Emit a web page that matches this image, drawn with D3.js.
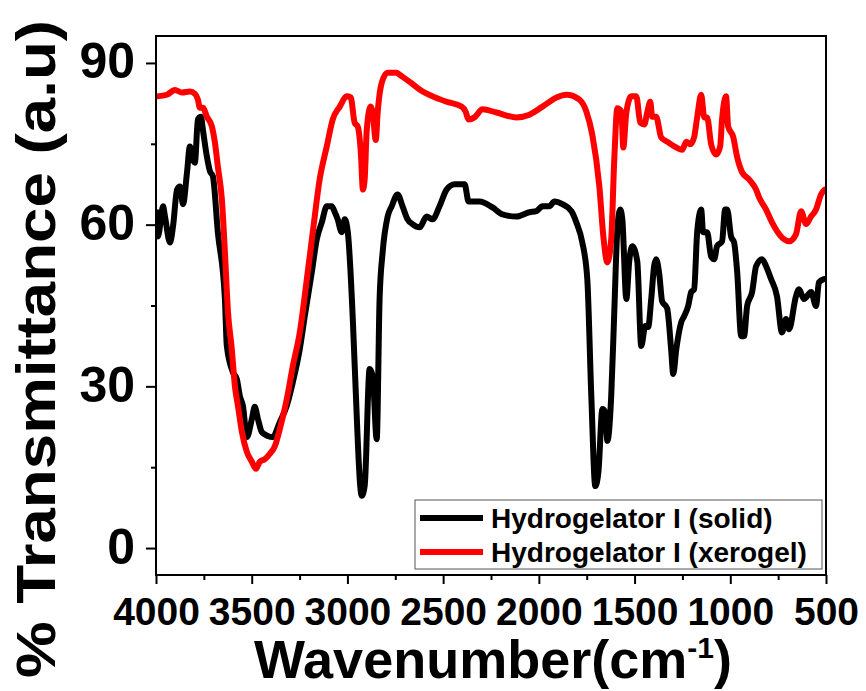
<!DOCTYPE html>
<html>
<head>
<meta charset="utf-8">
<script src="https://d3js.org/d3.v7.min.js"></script>
<style>
  html, body { margin: 0; padding: 0; background: #fff; }
  svg { display: block; font-family: "Liberation Sans", Arial, sans-serif; font-weight: bold; }
</style>
</head>
<body>
<svg id="chart" width="866" height="691"></svg>
<script>
// ---- data (wavenumber cm^-1, % transmittance) ----
const solidWavenumber = [3995,3990,3963,3953,3927,3911,3890,3875,3859,3838,3823,3807,3797,3781,3765,3755,3734,3718,3703,3677,3640,3630,3598,3578,3562,3546,3525,3499,3484,3468,3447,3416,3390,3353,3317,3285,3249,3223,3186,3160,3134,3108,3082,3066,3051,3030,3014,2998,2972,2962,2925,2910,2884,2868,2847,2832,2816,2790,2769,2738,2712,2686,2660,2623,2586,2555,2519,2482,2440,2388,2367,2310,2242,2190,2117,2049,2013,1981,1945,1919,1877,1830,1804,1773,1747,1726,1705,1689,1668,1653,1642,1622,1606,1590,1575,1564,1543,1528,1512,1486,1465,1444,1429,1413,1398,1387,1371,1356,1330,1309,1298,1282,1256,1241,1220,1204,1189,1173,1152,1142,1121,1100,1084,1069,1043,1027,1016,996,980,964,943,928,912,886,865,834,813,787,756,730,709,693,657,641,615,578,552,537,511];
const solidT = [62.3,57.8,63.4,61.5,56.7,59.7,66.5,67.1,63.8,69.7,74.5,72.1,71.5,79.5,80.0,77.6,72.6,69.9,69.0,58.6,46.2,37.5,32.6,31.4,28.2,26.4,20.6,24.0,26.2,24.0,21.5,20.8,20.6,23.4,26.4,30.8,36.9,43.0,51.2,57.3,60.4,63.4,63.4,62.3,61.0,58.6,61.0,58.6,42.5,33.8,9.7,11.5,33.2,31.9,20.2,46.2,54.9,61.5,63.4,65.6,63.4,61.0,60.1,59.5,61.5,61.0,63.4,66.5,67.5,67.5,64.3,64.3,63.2,61.9,61.5,62.3,62.5,63.4,63.4,64.3,63.8,62.5,60.4,56.7,49.9,28.2,11.5,14.1,25.8,25.2,19.9,28.2,43.8,59.1,62.8,61.0,46.2,53.2,56.0,53.2,37.5,41.2,41.0,46.2,52.3,53.6,50.8,45.8,44.5,36.9,32.3,36.9,41.9,43.0,44.9,47.5,48.0,58.6,62.8,58.6,58.6,54.1,53.6,56.0,56.9,62.8,62.8,57.8,56.7,51.2,39.3,39.3,44.9,47.5,52.3,53.6,52.3,49.9,46.7,40.0,42.5,40.6,46.7,48.0,46.2,47.5,44.9,49.3,49.9];

const xerogelWavenumber = [3995,3943,3901,3864,3823,3797,3781,3771,3755,3734,3708,3692,3677,3656,3640,3624,3604,3588,3572,3551,3525,3499,3478,3458,3431,3405,3379,3353,3317,3285,3249,3212,3181,3145,3108,3077,3040,3004,2983,2962,2946,2930,2919,2910,2899,2879,2868,2852,2842,2821,2790,2743,2727,2675,2607,2555,2482,2404,2383,2367,2336,2294,2221,2117,2049,1981,1908,1856,1788,1752,1721,1684,1663,1642,1622,1606,1590,1569,1559,1543,1517,1491,1470,1449,1434,1418,1408,1387,1361,1330,1282,1251,1230,1209,1189,1173,1152,1136,1121,1100,1074,1053,1043,1022,1011,985,964,938,902,865,850,813,782,756,720,693,657,630,604,578,552,526,506];
const xerogelT = [83.8,84.1,85.0,84.5,84.7,84.3,83.2,81.7,81.7,80.0,78.2,75.2,70.8,64.7,54.9,43.8,36.9,30.1,26.4,21.5,17.8,16.0,14.7,16.0,16.5,17.5,18.9,22.1,27.6,33.8,40.0,49.9,58.6,68.4,74.5,79.5,81.9,83.8,83.6,78.9,78.2,73.4,66.5,68.4,77.6,81.9,80.8,75.7,80.8,86.3,88.2,88.2,87.8,86.5,84.7,83.8,82.8,81.9,81.0,79.5,79.9,81.4,80.8,79.9,80.4,81.9,83.6,84.1,83.2,81.0,76.7,67.1,57.8,53.0,57.3,72.1,81.6,81.0,74.3,80.8,83.8,83.8,78.9,78.6,80.8,82.8,80.0,80.0,76.2,75.4,74.3,73.9,75.4,74.9,76.2,79.9,84.1,79.9,79.9,74.9,73.0,74.5,79.5,83.8,78.2,76.3,72.5,69.7,68.4,66.5,65.1,62.8,60.4,58.8,57.3,56.9,58.2,62.5,60.1,61.5,62.8,65.6,66.5];

const seriesNames = ["Hydrogelator I (solid)", "Hydrogelator I (xerogel)"];
const seriesColors = ["#000000", "#ff0000"];
const xMajorTicks = [4000, 3500, 3000, 2500, 2000, 1500, 1000, 500];
const xMinorTicks = [3750, 3250, 2750, 2250, 1750, 1250, 750];
const yMajorTicks = [0, 30, 60, 90];
const yMinorTicks = [15, 45, 75];

// ---- layout ----
const svg = d3.select("#chart");
const L = 156, R = 826, T = 36, B = 575;

const x = d3.scaleLinear().domain([4000, 500]).range([L, R]);
const y = d3.scaleLinear().domain([-5, 95]).range([B, T]);

const series = [
  { name: seriesNames[0], color: seriesColors[0], pts: solidWavenumber.map((w, i) => [w, solidT[i]]) },
  { name: seriesNames[1], color: seriesColors[1], pts: xerogelWavenumber.map((w, i) => [w, xerogelT[i]]) }
];

svg.append("defs").append("clipPath").attr("id", "clip")
  .append("rect").attr("x", L).attr("y", T).attr("width", R - L).attr("height", B - T);

const line = d3.line()
  .x(d => x(d[0]))
  .y(d => y(d[1]))
  .curve(d3.curveMonotoneX);

const g = svg.append("g").attr("clip-path", "url(#clip)");
series.forEach(s => {
  g.append("path")
    .datum(s.pts)
    .attr("d", line)
    .attr("fill", "none")
    .attr("stroke", s.color)
    .attr("stroke-width", 6)
    .attr("stroke-linejoin", "round")
    .attr("stroke-linecap", "round");
});

// frame
svg.append("rect")
  .attr("x", L).attr("y", T).attr("width", R - L).attr("height", B - T)
  .attr("fill", "none").attr("stroke", "#000").attr("stroke-width", 2);

// axes
const xAxis = svg.append("g").attr("transform", `translate(0,${B})`)
  .call(d3.axisBottom(x).tickValues(xMajorTicks).tickSize(9).tickPadding(13).tickFormat(d3.format("d")));
const xMinor = svg.append("g").attr("transform", `translate(0,${B})`)
  .call(d3.axisBottom(x).tickValues(xMinorTicks).tickSize(5).tickFormat(""));
const yAxis = svg.append("g").attr("transform", `translate(${L},0)`)
  .call(d3.axisLeft(y).tickValues(yMajorTicks).tickSize(10).tickPadding(11).tickFormat(d3.format("d")));
const yMinor = svg.append("g").attr("transform", `translate(${L},0)`)
  .call(d3.axisLeft(y).tickValues(yMinorTicks).tickSize(5).tickFormat(""));

[xAxis, xMinor, yAxis, yMinor].forEach(a => {
  a.select(".domain").remove();
  a.selectAll(".tick line").attr("stroke", "#000").attr("stroke-width", 2);
});
xAxis.selectAll("text")
  .attr("font-family", "'Liberation Sans', Arial, sans-serif")
  .attr("font-weight", "bold").attr("font-size", 39).attr("fill", "#000");
yAxis.selectAll("text")
  .attr("font-family", "'Liberation Sans', Arial, sans-serif")
  .attr("font-weight", "bold").attr("font-size", 50).attr("fill", "#000")
  .attr("dy", "0.3em");

// axis titles
const xt = svg.append("text")
  .attr("x", 493).attr("y", 678)
  .attr("text-anchor", "middle")
  .attr("font-size", 54).attr("font-weight", "bold").attr("fill", "#000");
xt.append("tspan").text("Wavenumber(cm");
xt.append("tspan").attr("font-size", 30).attr("dy", -20).text("-1");
xt.append("tspan").attr("font-size", 54).attr("dy", 20).text(")");

svg.append("text")
  .attr("transform", "translate(55,349) rotate(-90)")
  .attr("text-anchor", "middle")
  .attr("font-size", 56).attr("font-weight", "bold").attr("fill", "#000")
  .attr("textLength", 658).attr("lengthAdjust", "spacingAndGlyphs")
  .text("% Transmittance (a.u)");

// legend
const lg = svg.append("g");
lg.append("rect")
  .attr("x", 415).attr("y", 500).attr("width", 407).attr("height", 69)
  .attr("fill", "#fff").attr("stroke", "#555").attr("stroke-width", 1);
series.forEach((s, i) => {
  const yy = 518 + i * 34;
  lg.append("line")
    .attr("x1", 420).attr("x2", 483).attr("y1", yy).attr("y2", yy)
    .attr("stroke", s.color).attr("stroke-width", 6);
  lg.append("text")
    .attr("x", 491).attr("y", yy + 10)
    .attr("font-size", 28).attr("font-weight", "bold").attr("fill", "#000")
    .text(s.name);
});
</script>
</body>
</html>
